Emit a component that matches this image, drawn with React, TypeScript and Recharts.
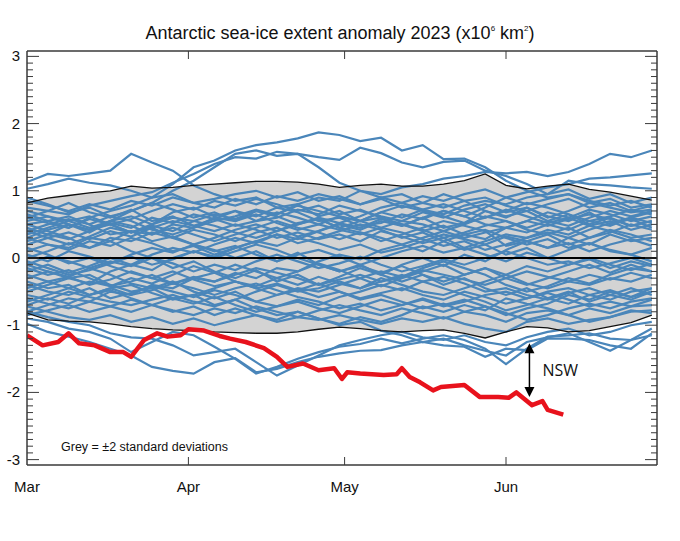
import { ComposedChart, Area, Line, XAxis, YAxis, ReferenceLine } from "recharts"

// day index counted from 1 March
const days = [0, 4, 8, 12, 16, 20, 24, 28, 32, 36, 40, 44, 48, 52, 56, 60, 64, 68, 72, 76, 80, 84, 88, 92, 96, 100, 104, 108, 112, 116, 120]

const bandHi = [0.82, 0.89, 0.93, 0.97, 1.0, 1.07, 1.04, 1.05, 1.08, 1.1, 1.12, 1.14, 1.14, 1.13, 1.1, 1.05, 1.08, 1.1, 1.07, 1.07, 1.1, 1.15, 1.25, 1.08, 1.03, 1.07, 1.1, 1.02, 0.98, 0.92, 0.86]
const bandLo = [-0.82, -0.92, -0.94, -0.95, -0.98, -1.02, -1.05, -1.07, -1.08, -1.1, -1.11, -1.12, -1.12, -1.1, -1.06, -1.03, -1.05, -1.08, -1.1, -1.08, -1.07, -1.12, -1.19, -1.1, -1.02, -1.04, -1.1, -1.08, -1.02, -0.96, -0.85]

// other years (blue)
const year01 = [0.75, 0.7, 0.82, 0.68, 0.6, 0.72, 0.55, 0.62, 0.48, 0.58, 0.7, 0.62, 0.75, 0.68, 0.55, 0.6, 0.48, 0.52, 0.65, 0.58, 0.7, 0.62, 0.5, 0.45, 0.55, 0.68, 0.6, 0.72, 0.65, 0.55, 0.62]
const year02 = [0.6, 0.52, 0.45, 0.58, 0.5, 0.38, 0.45, 0.3, 0.42, 0.35, 0.25, 0.38, 0.45, 0.32, 0.4, 0.52, 0.45, 0.58, 0.5, 0.42, 0.3, 0.38, 0.48, 0.55, 0.42, 0.35, 0.45, 0.3, 0.38, 0.5, 0.42]
const year03 = [0.45, 0.35, 0.5, 0.42, 0.55, 0.62, 0.5, 0.68, 0.75, 0.62, 0.7, 0.55, 0.6, 0.72, 0.65, 0.78, 0.7, 0.62, 0.55, 0.68, 0.6, 0.72, 0.8, 0.68, 0.75, 0.6, 0.7, 0.82, 0.75, 0.68, 0.72]
const year04 = [0.3, 0.2, 0.12, 0.25, 0.18, 0.3, 0.22, 0.1, 0.18, 0.05, 0.15, 0.25, 0.18, 0.3, 0.22, 0.12, 0.2, 0.08, 0.15, 0.25, 0.35, 0.28, 0.2, 0.32, 0.25, 0.15, 0.22, 0.1, 0.2, 0.28, 0.18]
const year05 = [0.2, 0.3, 0.38, 0.28, 0.4, 0.32, 0.45, 0.55, 0.48, 0.4, 0.5, 0.42, 0.3, 0.38, 0.28, 0.35, 0.25, 0.4, 0.32, 0.22, 0.3, 0.15, 0.25, 0.35, 0.3, 0.42, 0.35, 0.48, 0.4, 0.3, 0.35]
const year06 = [0.05, -0.05, 0.1, 0.02, -0.08, 0.05, 0.15, 0.08, 0.2, 0.12, 0.0, 0.1, -0.05, 0.05, 0.12, 0.02, -0.1, 0.0, 0.1, 0.18, 0.08, 0.15, 0.05, -0.05, 0.08, 0.0, 0.12, 0.22, 0.12, 0.05, 0.15]
const year07 = [-0.1, 0.02, -0.05, -0.15, -0.05, -0.12, 0.0, -0.08, -0.2, -0.1, -0.18, -0.05, 0.05, -0.05, -0.15, -0.08, 0.02, -0.1, -0.2, -0.12, -0.02, -0.1, 0.0, 0.1, 0.0, -0.1, -0.05, -0.15, -0.08, 0.0, -0.1]
const year08 = [-0.25, -0.35, -0.28, -0.4, -0.32, -0.2, -0.3, -0.38, -0.28, -0.35, -0.25, -0.15, -0.22, -0.3, -0.4, -0.32, -0.25, -0.35, -0.28, -0.18, -0.25, -0.32, -0.4, -0.3, -0.2, -0.28, -0.35, -0.25, -0.32, -0.22, -0.3]
const year09 = [-0.4, -0.5, -0.55, -0.45, -0.6, -0.52, -0.42, -0.5, -0.58, -0.48, -0.55, -0.65, -0.55, -0.48, -0.58, -0.5, -0.6, -0.52, -0.45, -0.55, -0.62, -0.5, -0.58, -0.68, -0.6, -0.5, -0.45, -0.55, -0.48, -0.58, -0.5]
const year10 = [-0.6, -0.68, -0.75, -0.65, -0.72, -0.8, -0.7, -0.78, -0.85, -0.75, -0.82, -0.72, -0.8, -0.88, -0.78, -0.7, -0.78, -0.85, -0.75, -0.82, -0.9, -0.8, -0.85, -0.95, -0.82, -0.78, -0.85, -0.75, -0.82, -0.72, -0.7]
const year11 = [-0.72, -0.8, -0.88, -0.92, -0.85, -0.95, -0.88, -0.98, -0.9, -1.0, -0.92, -0.85, -0.95, -0.88, -0.92, -0.85, -0.92, -0.98, -0.9, -0.95, -0.88, -0.98, -1.05, -1.1, -0.95, -0.9, -0.98, -0.92, -0.88, -0.8, -0.78]
const year12 = [0.5, 0.4, 0.3, 0.15, 0.25, 0.1, 0.0, -0.15, -0.05, -0.2, -0.3, -0.18, -0.35, -0.25, -0.4, -0.28, -0.15, -0.25, -0.1, 0.0, -0.12, 0.05, -0.05, 0.12, 0.25, 0.15, 0.3, 0.2, 0.35, 0.25, 0.3]
const year13 = [-0.5, -0.4, -0.3, -0.38, -0.2, -0.1, -0.18, 0.0, 0.1, 0.02, 0.15, 0.25, 0.35, 0.22, 0.3, 0.4, 0.5, 0.42, 0.3, 0.38, 0.25, 0.12, 0.2, 0.05, 0.15, 0.0, -0.1, -0.02, -0.15, -0.05, -0.12]
const year14 = [0.65, 0.55, 0.62, 0.5, 0.35, 0.4, 0.25, 0.32, 0.2, 0.1, 0.18, 0.05, -0.05, 0.08, -0.1, -0.2, -0.1, -0.25, -0.35, -0.25, -0.4, -0.3, -0.45, -0.55, -0.45, -0.6, -0.5, -0.65, -0.55, -0.62, -0.5]
const year15 = [-0.8, -0.7, -0.6, -0.65, -0.5, -0.55, -0.4, -0.45, -0.3, -0.35, -0.22, -0.3, -0.15, -0.2, -0.05, 0.05, -0.02, 0.12, 0.2, 0.1, 0.25, 0.35, 0.28, 0.45, 0.38, 0.5, 0.42, 0.55, 0.48, 0.6, 0.52]
const year16 = [0.35, 0.45, 0.55, 0.62, 0.5, 0.58, 0.7, 0.8, 0.72, 0.85, 0.78, 0.88, 0.8, 0.7, 0.78, 0.65, 0.72, 0.6, 0.5, 0.4, 0.48, 0.35, 0.42, 0.3, 0.2, 0.28, 0.15, 0.22, 0.1, 0.05, -0.05]
const year17 = [-0.3, -0.2, -0.28, -0.15, -0.25, -0.38, -0.45, -0.35, -0.5, -0.6, -0.5, -0.65, -0.72, -0.62, -0.7, -0.58, -0.5, -0.4, -0.48, -0.35, -0.45, -0.55, -0.65, -0.78, -0.7, -0.6, -0.68, -0.55, -0.62, -0.5, -0.45]
const year18 = [0.0, 0.1, 0.22, 0.15, 0.3, 0.25, 0.38, 0.3, 0.2, 0.3, 0.42, 0.5, 0.4, 0.5, 0.6, 0.52, 0.62, 0.75, 0.82, 0.72, 0.8, 0.7, 0.6, 0.72, 0.62, 0.52, 0.6, 0.48, 0.55, 0.42, 0.5]
const year19 = [-0.15, -0.25, -0.18, -0.3, -0.42, -0.35, -0.25, -0.38, -0.3, -0.22, -0.35, -0.45, -0.38, -0.48, -0.38, -0.5, -0.62, -0.55, -0.65, -0.75, -0.68, -0.8, -0.72, -0.85, -0.75, -0.68, -0.55, -0.62, -0.5, -0.58, -0.45]
const year20 = [0.85, 0.78, 0.7, 0.8, 0.72, 0.85, 0.78, 0.9, 0.82, 0.75, 0.88, 0.8, 0.92, 0.85, 0.95, 0.88, 0.8, 0.9, 0.82, 0.92, 0.85, 0.95, 1.02, 0.9, 0.8, 0.88, 0.95, 0.85, 0.78, 0.85, 0.75]
const year21 = [-0.55, -0.62, -0.5, -0.58, -0.65, -0.7, -0.62, -0.55, -0.65, -0.72, -0.62, -0.5, -0.4, -0.5, -0.45, -0.35, -0.45, -0.3, -0.4, -0.5, -0.55, -0.45, -0.35, -0.25, -0.38, -0.45, -0.35, -0.4, -0.3, -0.35, -0.25]
const year22 = [0.15, 0.05, -0.08, 0.0, -0.12, -0.22, -0.3, -0.2, -0.32, -0.42, -0.35, -0.45, -0.55, -0.45, -0.5, -0.4, -0.3, -0.2, -0.28, -0.15, -0.05, -0.15, -0.25, -0.4, -0.5, -0.42, -0.3, -0.38, -0.25, -0.15, -0.2]
const year23 = [-0.35, -0.45, -0.4, -0.55, -0.48, -0.6, -0.7, -0.8, -0.72, -0.85, -0.75, -0.85, -0.92, -0.8, -0.9, -0.98, -0.88, -0.95, -0.85, -0.72, -0.8, -0.7, -0.78, -0.6, -0.68, -0.75, -0.85, -0.95, -0.88, -0.78, -0.82]
const year24 = [0.55, 0.62, 0.5, 0.42, 0.5, 0.38, 0.48, 0.4, 0.55, 0.48, 0.38, 0.3, 0.4, 0.52, 0.58, 0.45, 0.38, 0.25, 0.35, 0.45, 0.55, 0.48, 0.4, 0.18, 0.25, 0.35, 0.2, 0.3, 0.42, 0.35, 0.25]
const year25 = [-0.65, -0.55, -0.45, -0.35, -0.42, -0.3, -0.38, -0.25, -0.12, -0.22, -0.1, -0.2, -0.3, -0.2, -0.08, -0.18, -0.3, -0.42, -0.3, -0.2, -0.1, -0.25, -0.15, -0.3, -0.4, -0.3, -0.2, -0.1, -0.22, -0.1, -0.2]
const year26 = [0.9, 0.8, 0.68, 0.75, 0.62, 0.7, 0.82, 0.72, 0.6, 0.68, 0.55, 0.65, 0.52, 0.42, 0.5, 0.62, 0.55, 0.68, 0.78, 0.7, 0.62, 0.52, 0.6, 0.7, 0.82, 0.75, 0.65, 0.55, 0.62, 0.72, 0.65]
const year27 = [-0.85, -0.78, -0.7, -0.8, -0.72, -0.62, -0.7, -0.6, -0.68, -0.58, -0.7, -0.8, -0.72, -0.65, -0.75, -0.82, -0.72, -0.62, -0.7, -0.6, -0.7, -0.62, -0.72, -0.82, -0.92, -0.85, -0.75, -0.68, -0.75, -0.65, -0.6]
const year28 = [0.25, 0.35, 0.28, 0.4, 0.52, 0.45, 0.6, 0.52, 0.65, 0.58, 0.48, 0.55, 0.68, 0.6, 0.5, 0.42, 0.35, 0.45, 0.55, 0.5, 0.4, 0.5, 0.62, 0.55, 0.45, 0.55, 0.48, 0.6, 0.7, 0.62, 0.7]
const year29 = [-0.05, -0.15, -0.25, -0.18, -0.08, 0.02, -0.1, -0.02, 0.1, 0.0, 0.1, 0.2, 0.12, 0.0, -0.1, -0.2, -0.12, -0.22, -0.12, -0.25, -0.35, -0.25, -0.15, -0.25, -0.12, -0.2, -0.1, 0.0, -0.1, -0.18, -0.08]
const year30 = [0.7, 0.62, 0.55, 0.45, 0.55, 0.48, 0.35, 0.45, 0.35, 0.25, 0.35, 0.45, 0.55, 0.45, 0.38, 0.28, 0.38, 0.3, 0.2, 0.3, 0.4, 0.3, 0.38, 0.45, 0.55, 0.48, 0.58, 0.65, 0.58, 0.48, 0.55]
const year31 = [-0.45, -0.35, -0.45, -0.55, -0.45, -0.4, -0.52, -0.62, -0.55, -0.45, -0.35, -0.42, -0.3, -0.4, -0.28, -0.38, -0.45, -0.35, -0.25, -0.35, -0.28, -0.38, -0.5, -0.45, -0.55, -0.62, -0.52, -0.45, -0.55, -0.45, -0.55]
const year32 = [0.4, 0.5, 0.58, 0.5, 0.62, 0.55, 0.42, 0.35, 0.45, 0.55, 0.62, 0.72, 0.65, 0.78, 0.7, 0.62, 0.55, 0.45, 0.38, 0.28, 0.18, 0.25, 0.12, 0.2, 0.3, 0.38, 0.3, 0.42, 0.52, 0.6, 0.68]
const year33 = [-0.7, -0.6, -0.68, -0.55, -0.45, -0.55, -0.48, -0.38, -0.45, -0.55, -0.45, -0.38, -0.48, -0.58, -0.65, -0.75, -0.68, -0.78, -0.7, -0.62, -0.72, -0.65, -0.55, -0.5, -0.6, -0.52, -0.62, -0.72, -0.65, -0.72, -0.62]
// years leaving the band
const high1 = [1.13, 1.25, 1.22, 1.26, 1.3, 1.55, 1.42, 1.3, 1.08, 0.95, 0.85, 0.9, 0.75, 0.8, 0.62, 0.7, 0.55, 0.6, 0.48, 0.6, 0.45, 0.52, 0.7, 0.6, 0.75, 0.62, 0.55, 0.68, 0.5, 0.58, 0.45]
const high2 = [1.03, 1.1, 1.18, 1.12, 1.08, 1.0, 0.9, 0.95, 0.82, 0.88, 0.95, 1.0, 0.9, 0.98, 0.85, 0.92, 0.8, 0.88, 0.75, 0.82, 0.95, 0.85, 0.9, 0.78, 0.7, 0.8, 0.88, 0.75, 0.82, 0.7, 0.78]
const high3 = [0.5, 0.55, 0.45, 0.6, 0.7, 0.78, 0.9, 1.1, 1.35, 1.45, 1.6, 1.68, 1.72, 1.78, 1.87, 1.83, 1.74, 1.79, 1.6, 1.68, 1.47, 1.48, 1.35, 1.15, 1.0, 0.9, 0.95, 0.82, 0.88, 0.75, 0.8]
const high4 = [0.3, 0.42, 0.5, 0.38, 0.55, 0.7, 0.82, 1.0, 1.15, 1.35, 1.55, 1.6, 1.52, 1.55, 1.5, 1.46, 1.64, 1.56, 1.42, 1.35, 1.43, 1.45, 1.3, 1.22, 1.1, 0.95, 1.02, 0.88, 0.95, 0.82, 0.9]
const high5 = [0.6, 0.7, 0.65, 0.78, 0.85, 0.92, 0.98, 1.12, 1.25, 1.4, 1.5, 1.48, 1.58, 1.55, 1.35, 1.12, 1.0, 0.9, 0.95, 0.82, 0.75, 0.85, 0.7, 0.62, 0.7, 0.55, 0.65, 0.5, 0.6, 0.48, 0.55]
const high6 = [0.1, 0.2, 0.15, 0.3, 0.25, 0.4, 0.35, 0.5, 0.45, 0.6, 0.55, 0.7, 0.65, 0.8, 0.9, 0.85, 1.0, 0.95, 1.05, 1.1, 1.18, 1.22, 1.28, 1.26, 1.28, 1.22, 1.28, 1.4, 1.55, 1.5, 1.6]
const high7 = [-0.2, -0.1, -0.22, -0.12, 0.0, -0.1, 0.05, 0.15, 0.08, 0.2, 0.3, 0.22, 0.35, 0.28, 0.4, 0.5, 0.42, 0.55, 0.48, 0.6, 0.7, 0.62, 0.75, 0.9, 0.98, 1.05, 1.1, 1.18, 1.2, 1.23, 1.26]
const high8 = [0.4, 0.3, 0.2, 0.32, 0.45, 0.38, 0.5, 0.6, 0.55, 0.65, 0.58, 0.7, 0.62, 0.5, 0.58, 0.45, 0.55, 0.68, 0.6, 0.72, 0.65, 0.78, 0.85, 0.8, 0.9, 0.95, 1.15, 1.1, 1.08, 1.05, 1.03]
const low1 = [-0.98, -1.1, -1.17, -1.25, -1.35, -1.45, -1.62, -1.68, -1.72, -1.55, -1.49, -1.7, -1.65, -1.55, -1.47, -1.42, -1.38, -1.37, -1.3, -1.25, -1.3, -1.32, -1.47, -1.35, -1.37, -1.2, -1.2, -1.22, -1.3, -1.35, -1.12]
const low2 = [-0.9, -0.95, -1.05, -1.1, -1.2, -1.4, -1.25, -1.1, -1.15, -1.32, -1.5, -1.72, -1.62, -1.5, -1.4, -1.32, -1.28, -1.2, -1.27, -1.2, -1.15, -1.22, -1.35, -1.58, -1.35, -1.17, -1.15, -1.12, -1.2, -1.22, -1.05]
const low3 = [-0.8, -0.88, -0.95, -1.0, -1.12, -1.18, -1.2, -1.3, -1.45, -1.4, -1.35, -1.55, -1.75, -1.6, -1.45, -1.3, -1.22, -1.15, -1.1, -1.18, -1.22, -1.15, -1.25, -1.3, -1.18, -1.1, -1.05, -1.15, -1.1, -1.0, -0.95]
const low4 = [-0.1, -0.2, -0.3, -0.25, -0.4, -0.5, -0.45, -0.6, -0.55, -0.7, -0.62, -0.75, -0.85, -0.8, -0.9, -1.0, -0.95, -1.08, -1.15, -1.25, -1.2, -1.3, -1.38, -1.45, -1.25, -1.18, -1.12, -1.25, -1.38, -1.22, -1.15]

const otherYears = [
  year01, year02, year03, year04, year05, year06, year07, year08, year09, year10,
  year11, year12, year13, year14, year15, year16, year17, year18, year19, year20,
  year21, year22, year23, year24, year25, year26, year27, year28, year29, year30,
  year31, year32, year33,
  high1, high2, high3, high4, high5, high6, high7, high8,
  low1, low2, low3, low4,
]

// 2023 (red)
const days2023 = [0, 3, 6, 8, 10, 13, 16, 18.5, 20, 22.5, 25, 27, 29.5, 31, 34, 37, 39, 42, 45.5, 48, 50, 53, 56, 59, 60.5, 61.5, 64, 68.5, 71, 72, 73.5, 75.5, 78, 79.5, 84, 87, 90.5, 92.5, 94, 97, 99, 100, 103]
const anomaly2023 = [-1.15, -1.3, -1.25, -1.12, -1.27, -1.3, -1.4, -1.4, -1.47, -1.22, -1.12, -1.17, -1.15, -1.06, -1.08, -1.16, -1.2, -1.25, -1.34, -1.47, -1.62, -1.57, -1.67, -1.64, -1.8, -1.7, -1.72, -1.74, -1.73, -1.64, -1.77, -1.85, -1.97, -1.92, -1.89, -2.07, -2.07, -2.08, -2.0, -2.19, -2.13, -2.26, -2.33]

const monthTicks = [0, 31, 61, 92]
const monthLabels = ["Mar", "Apr", "May", "Jun"]
const yMajorTicks = [-3, -2, -1, 0, 1, 2, 3]
const yMinorTicks: number[] = []
for (let i = -30; i <= 30; i++) yMinorTicks.push(i / 10)

const rows = days.map((day, i) => {
  const row: Record<string, any> = { day, hi: bandHi[i], lo: bandLo[i], band: [bandLo[i], bandHi[i]] }
  otherYears.forEach((s, k) => { row["s" + k] = s[i] })
  return row
})
const rows2023 = days2023.map((day, i) => ({ day, v: anomaly2023[i] }))

const BLUE = "#4a86ba"
const AXIS = "#3a3a3a"
const FONT = "'Liberation Sans', Arial, Helvetica, sans-serif"

const isMajor = (v: number) => yMajorTicks.some((m) => Math.abs(m - v) < 1e-6)

function LeftTick(props: any) {
  const { x, y, payload } = props
  const major = isMajor(payload.value)
  return (
    <g>
      <line x1={x} x2={x + (major ? 12 : 6)} y1={y} y2={y} stroke={AXIS} strokeWidth={1} />
      {major && (
        <text x={x - 7} y={y} dy={5} textAnchor="end" fontSize={15} fill="#111" fontFamily={FONT}>
          {Math.round(payload.value)}
        </text>
      )}
    </g>
  )
}

function RightTick(props: any) {
  const { x, y, payload } = props
  const major = isMajor(payload.value)
  return <line x1={x} x2={x - (major ? 12 : 6)} y1={y} y2={y} stroke={AXIS} strokeWidth={1} />
}

function BottomTick(props: any) {
  const { x, y, payload } = props
  const idx = monthTicks.indexOf(payload.value)
  return (
    <g>
      {idx > 0 && <line x1={x} x2={x} y1={y} y2={y - 8} stroke={AXIS} strokeWidth={1} />}
      <text x={x} y={y + 27} textAnchor="middle" fontSize={15} fill="#111" fontFamily={FONT}>
        {monthLabels[idx]}
      </text>
    </g>
  )
}

function TopTick(props: any) {
  const { x, y } = props
  return <line x1={x} x2={x} y1={y} y2={y + 8} stroke={AXIS} strokeWidth={1} />
}

function NswArrow(props: any) {
  const { x1, y1, y2 } = props
  const top = Math.min(y1, y2)
  const bottom = Math.max(y1, y2)
  return (
    <g>
      <line x1={x1} x2={x1} y1={top + 8} y2={bottom - 8} stroke="#000" strokeWidth={1.5} />
      <polygon points={`${x1},${top} ${x1 - 5},${top + 10} ${x1 + 5},${top + 10}`} fill="#000" />
      <polygon points={`${x1},${bottom} ${x1 - 5},${bottom - 10} ${x1 + 5},${bottom - 10}`} fill="#000" />
      <text x={x1 + 13} y={(top + bottom) / 2 + 6} fontSize={16} fill="#111" fontFamily="'Open Sans', 'Noto Sans', sans-serif">
        NSW
      </text>
    </g>
  )
}

export default function App() {
  return (
    <div style={{ position: "absolute", left: 0, top: 0, width: 680, height: 541, background: "#fff", fontFamily: FONT }}>
      <div style={{ position: "absolute", top: 23, left: 0, width: 680, textAlign: "center", fontSize: 18, lineHeight: "20px", color: "#111" }}>
        Antarctic sea-ice extent anomaly 2023 (x10
        <span style={{ fontSize: 8, position: "relative", top: -8 }}>6</span> km
        <span style={{ fontSize: 8, position: "relative", top: -8 }}>2</span>)
      </div>
      <div style={{ position: "absolute", top: 439, left: 61, fontSize: 12.5, lineHeight: "16px", color: "#111" }}>
        Grey = ±2 standard deviations
      </div>
      <ComposedChart
        width={680}
        height={541}
        data={rows}
        margin={{ top: 0, right: 0, bottom: 0, left: 0 }}
        style={{ position: "absolute", left: 0, top: 0 }}
      >
        <XAxis
          dataKey="day"
          type="number"
          domain={[0, 121]}
          allowDataOverflow
          ticks={monthTicks}
          interval={0}
          height={76}
          tickSize={0}
          tickMargin={0}
          tickLine={false}
          tick={<BottomTick />}
          axisLine={{ stroke: AXIS, strokeWidth: 1.5 }}
        />
        <XAxis
          xAxisId="top"
          orientation="top"
          dataKey="day"
          type="number"
          domain={[0, 121]}
          allowDataOverflow
          ticks={monthTicks.slice(1)}
          interval={0}
          height={51}
          tickSize={0}
          tickMargin={0}
          tickLine={false}
          tick={<TopTick />}
          axisLine={{ stroke: AXIS, strokeWidth: 1.5 }}
        />
        <YAxis
          type="number"
          domain={[-3.08, 3.08]}
          allowDataOverflow
          ticks={yMinorTicks}
          interval={0}
          width={27}
          tickSize={0}
          tickMargin={0}
          tickLine={false}
          tick={<LeftTick />}
          axisLine={{ stroke: AXIS, strokeWidth: 1.5 }}
        />
        <YAxis
          yAxisId="right"
          orientation="right"
          type="number"
          domain={[-3.08, 3.08]}
          allowDataOverflow
          ticks={yMinorTicks}
          interval={0}
          width={23}
          tickSize={0}
          tickMargin={0}
          tickLine={false}
          tick={<RightTick />}
          axisLine={{ stroke: AXIS, strokeWidth: 1.5 }}
        />
        <Area dataKey="band" fill="#d3d3d3" fillOpacity={1} stroke="none" isAnimationActive={false} />
        {otherYears.map((_, k) => (
          <Line
            key={k}
            dataKey={"s" + k}
            stroke={BLUE}
            strokeWidth={2.2}
            dot={false}
            activeDot={false}
            isAnimationActive={false}
          />
        ))}
        <Line dataKey="hi" stroke="#111" strokeWidth={1.3} dot={false} isAnimationActive={false} />
        <Line dataKey="lo" stroke="#111" strokeWidth={1.3} dot={false} isAnimationActive={false} />
        <ReferenceLine y={0} stroke="#000" strokeWidth={2} />
        <Line
          data={rows2023}
          dataKey="v"
          stroke="#e8121c"
          strokeWidth={4.5}
          strokeLinejoin="round"
          dot={false}
          isAnimationActive={false}
        />
        <ReferenceLine
          segment={[{ x: 96.5, y: -1.27 }, { x: 96.5, y: -2.07 }]}
          shape={<NswArrow />}
        />
      </ComposedChart>
    </div>
  )
}
